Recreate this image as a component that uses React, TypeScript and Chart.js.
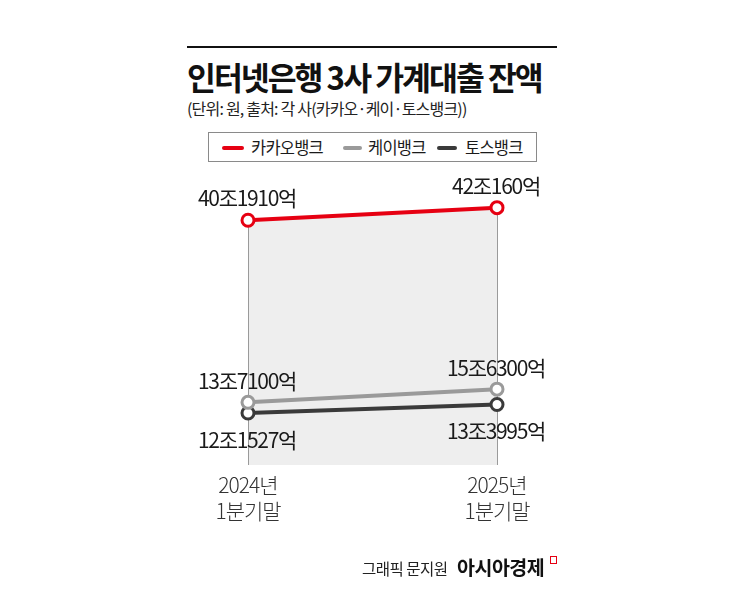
import React, { useEffect, useRef } from "react";
import { Chart, registerables } from "chart.js";

Chart.register(...registerables);

const categories = [["2024년", "1분기말"], ["2025년", "1분기말"]];
const seriesNames = ["카카오뱅크", "케이뱅크", "토스뱅크"];
const kakao = [40.191, 42.016];
const kbank = [13.71, 15.63];
const toss = [12.1527, 13.3995];
const kakaoLabels = ["40조1910억", "42조160억"];
const kbankLabels = ["13조7100억", "15조6300억"];
const tossLabels = ["12조1527억", "13조3995억"];

const RED = "#e60012";
const GRAY = "#9a9a9a";
const DARK = "#3a3a3a";
const FONT = "'Noto Sans CJK KR', 'Noto Sans', sans-serif";

const overlay = {
  id: "overlay",
  beforeDatasetsDraw(chart: any) {
    const ctx = chart.ctx;
    const meta = chart.getDatasetMeta(0);
    const bottom = chart.chartArea.bottom;
    ctx.save();
    ctx.strokeStyle = "#9a9a9a";
    ctx.lineWidth = 1;
    meta.data.forEach((pt: any) => {
      const x = Math.round(pt.x) + 0.5;
      ctx.beginPath();
      ctx.moveTo(x, pt.y);
      ctx.lineTo(x, bottom);
      ctx.stroke();
    });
    ctx.restore();
  },
  afterDatasetsDraw(chart: any) {
    const ctx = chart.ctx;
    const all = [
      { labels: kakaoLabels, dy: -22 },
      { labels: kbankLabels, dy: -21 },
      { labels: tossLabels, dy: 27 },
    ];
    ctx.save();
    ctx.fillStyle = "#1a1a1a";
    ctx.font = `400 21px ${FONT}`;
    (ctx as any).letterSpacing = "-1.3px";
    ctx.textAlign = "center";
    ctx.textBaseline = "middle";
    all.forEach((s, di) => {
      const meta = chart.getDatasetMeta(di);
      meta.data.forEach((pt: any, i: number) => {
        ctx.fillText(s.labels[i], pt.x - 1, pt.y + s.dy);
      });
    });
    const xs = chart.scales.x;
    ctx.fillStyle = "#333";
    ctx.font = `300 21px ${FONT}`;
    (ctx as any).letterSpacing = "-1px";
    categories.forEach((lines, i) => {
      const x = xs.getPixelForValue(i);
      lines.forEach((ln, j) => {
        ctx.fillText(ln, x, chart.chartArea.bottom + 20 + j * 26);
      });
    });
    ctx.restore();
  },
};

export default function App() {
  const ref = useRef<HTMLCanvasElement | null>(null);
  useEffect(() => {
    if (!ref.current) return;
    const chart = new Chart(ref.current, {
      type: "line",
      data: {
        labels: categories.map((c) => c.join(" ")),
        datasets: [
          {
            label: seriesNames[0],
            data: kakao,
            borderColor: RED,
            backgroundColor: "#eeeeee",
            fill: "start",
            borderWidth: 4,
            pointRadius: 6,
            pointBorderWidth: 3,
            pointBackgroundColor: "#fff",
            pointBorderColor: RED,
            clip: false as any,
          },
          {
            label: seriesNames[1],
            data: kbank,
            borderColor: GRAY,
            borderWidth: 4,
            pointRadius: 6,
            pointBorderWidth: 3,
            pointBackgroundColor: "#fff",
            pointBorderColor: GRAY,
            fill: false,
            clip: false as any,
          },
          {
            label: seriesNames[2],
            data: toss,
            borderColor: DARK,
            borderWidth: 4,
            pointRadius: 6,
            pointBorderWidth: 3,
            pointBackgroundColor: "#fff",
            pointBorderColor: DARK,
            fill: false,
            clip: false as any,
          },
        ],
      },
      options: {
        responsive: false,
        animation: false,
        layout: {
          padding: { left: 248, right: 248, top: 150, bottom: 131 },
          autoPadding: false,
        } as any,
        scales: {
          x: { type: "category", display: false, offset: false },
          y: { display: false, min: 4.6, max: 50.4 },
        },
        plugins: {
          legend: { display: false },
          tooltip: { enabled: false },
          filler: { drawTime: "beforeDatasetsDraw" } as any,
        },
      },
      plugins: [overlay],
    });
    return () => chart.destroy();
  }, []);

  const legendItem = (color: string, name: string, lineLeft: number, lineW: number, textLeft: number) => (
    <React.Fragment key={name}>
      <div style={{ position: "absolute", left: lineLeft, top: 146, width: lineW, height: 4, borderRadius: 2, background: color }} />
      <div style={{ position: "absolute", left: textLeft, top: 136, fontSize: 16.5, lineHeight: "22px", letterSpacing: "-0.8px", color: "#1a1a1a", whiteSpace: "nowrap" }}>{name}</div>
    </React.Fragment>
  );

  return (
    <div style={{ position: "fixed", left: 0, top: 0, width: 745, height: 596, background: "#fff", fontFamily: FONT, overflow: "hidden" }}>
      <div style={{ position: "absolute", left: 187, top: 46, width: 370, height: 2, background: "#111" }} />
      <div style={{ position: "absolute", left: 187, top: 56, fontSize: 32, fontWeight: 700, lineHeight: "40px", letterSpacing: "-2px", color: "#111", whiteSpace: "nowrap", transform: "scaleX(0.98)", transformOrigin: "left top" }}>
        인터넷은행 3사 가계대출 잔액
      </div>
      <div style={{ position: "absolute", left: 187, top: 97, fontSize: 16, lineHeight: "22px", letterSpacing: "-0.8px", color: "#222", whiteSpace: "nowrap" }}>
        (단위: 원, 출처: 각 사(카카오·케이·토스뱅크))
      </div>
      <div style={{ position: "absolute", left: 208, top: 132, width: 329, height: 30, border: "1px solid #8a8a8a", boxSizing: "border-box" }} />
      {legendItem(RED, seriesNames[0], 222, 22, 251)}
      {legendItem(GRAY, seriesNames[1], 343, 19, 368)}
      {legendItem(DARK, seriesNames[2], 437, 20, 465)}
      <canvas ref={ref} width={745} height={596} style={{ position: "absolute", left: 0, top: 0, width: 745, height: 596 }} />
      <div style={{ position: "absolute", left: 362, top: 557, fontSize: 15.5, lineHeight: "22px", letterSpacing: "-0.5px", color: "#222", whiteSpace: "nowrap" }}>
        그래픽 문지원
      </div>
      <div style={{ position: "absolute", left: 457, top: 554, fontSize: 19.5, fontWeight: 700, lineHeight: "26px", letterSpacing: "-0.5px", color: "#111", whiteSpace: "nowrap" }}>
        아시아경제
      </div>
      <div style={{ position: "absolute", left: 550, top: 556, width: 5, height: 6, border: "1.5px solid " + RED }} />
    </div>
  );
}
